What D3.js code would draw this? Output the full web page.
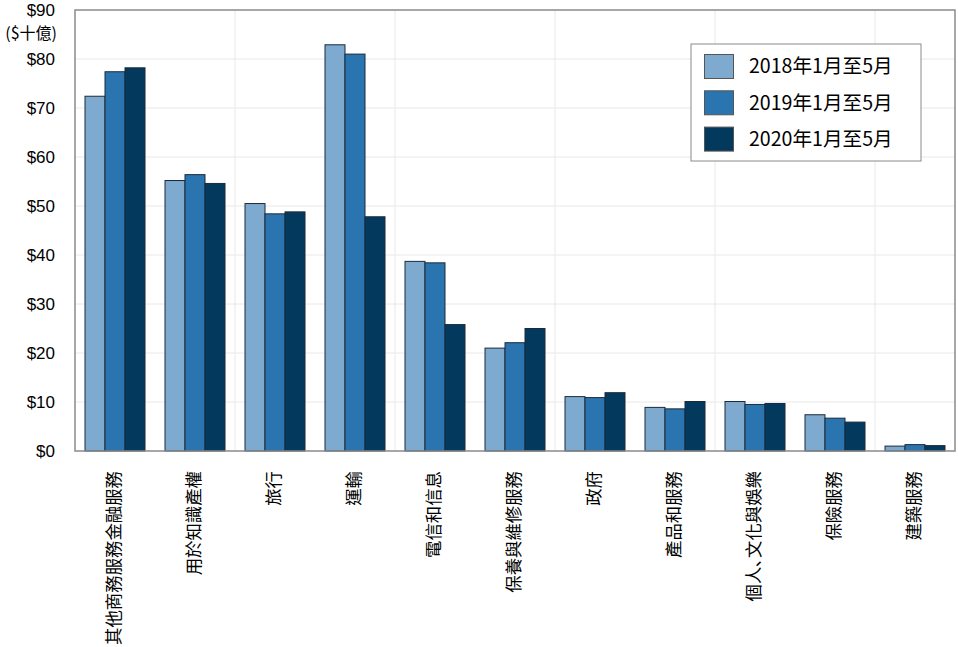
<!DOCTYPE html>
<html><head><meta charset="utf-8">
<script src="https://cdn.jsdelivr.net/npm/d3@7/dist/d3.min.js"></script>
<style>body{margin:0;background:#fff}svg{display:block}</style>
</head><body><svg id="c" width="958" height="647"></svg>
<script>
const categories = ["其他商務服務金融服務","用於知識產權","旅行","運輸","電信和信息","保養與維修服務","政府","產品和服務","個人､文化與娛樂","保險服務","建築服務"];
const seriesNames = ["2018年1月至5月","2019年1月至5月","2020年1月至5月"];
const s2018 = [72.4,55.2,50.5,82.9,38.7,21.0,11.1,8.9,10.1,7.4,1.0];
const s2019 = [77.4,56.4,48.4,81.0,38.4,22.1,10.9,8.6,9.5,6.7,1.3];
const s2020 = [78.2,54.6,48.8,47.8,25.8,25.0,11.9,10.1,9.7,5.9,1.1];
const yTicks = [0,10,20,30,40,50,60,70,80,90];
const colors = ["#7eaacf","#2a75b0","#04395e"];

const svg = d3.select("#c");
const L=75,R=955,T=10,B=451;
const x = d3.scaleBand().domain(categories).range([L,R]).paddingInner(0.25).paddingOuter(0.125);
const xs = d3.scaleBand().domain(seriesNames).range([0,x.bandwidth()]);
const xg = d3.scaleLinear().domain([0,categories.length]).range([L,R]);
const y = d3.scaleLinear().domain([0,90]).range([B,T]);

// grid
svg.append("g").selectAll("line").data(yTicks.slice(1,-1)).join("line")
  .attr("x1",L).attr("x2",R).attr("y1",d=>y(d)).attr("y2",d=>y(d))
  .attr("stroke","#e8e8e8").attr("stroke-width",1);
svg.append("g").selectAll("line").data([2,4,6,8,10]).join("line")
  .attr("x1",d=>xg(d)).attr("x2",d=>xg(d)).attr("y1",T).attr("y2",B)
  .attr("stroke","#e8e8e8").attr("stroke-width",1);

// bars
const series=[s2018,s2019,s2020];
series.forEach((s,si)=>{
  svg.append("g").selectAll("rect").data(s).join("rect")
    .attr("x",(d,i)=>x(categories[i])+xs(seriesNames[si]))
    .attr("y",d=>y(d)).attr("width",xs.bandwidth()).attr("height",d=>B-y(d))
    .attr("fill",colors[si]).attr("stroke","#1b2a3a").attr("stroke-width",1);
});

// frame
svg.append("rect").attr("x",L).attr("y",T).attr("width",R-L).attr("height",B-T)
  .attr("fill","none").attr("stroke","#8a8a8a").attr("stroke-width",1.5);

// y axis labels
const yAxis = d3.axisLeft(y).tickValues(yTicks).tickSize(0).tickPadding(20).tickFormat(d=>"$"+d);
const ga = svg.append("g").attr("transform",`translate(${L},0)`).call(yAxis);
ga.select(".domain").remove();
ga.selectAll("text").attr("font-family","Liberation Sans, Arial, sans-serif").attr("font-size",17).attr("fill","#000");
ga.selectAll(".tick").filter(d=>d===90).select("text").attr("dy","0.3em");
svg.append("text").attr("x",57).attr("y",39).attr("text-anchor","end")
  .attr("font-family","Noto Sans CJK TC, sans-serif").attr("font-size",16).text("($十億)");

// x labels
svg.append("g").selectAll("text").data(categories).join("text")
  .attr("transform",d=>`translate(${x(d)+x.bandwidth()/2+5},471) rotate(-90)`)
  .attr("text-anchor","end")
  .attr("font-family","Noto Sans CJK TC, sans-serif").attr("font-size",17.4).attr("fill","#000")
  .text(d=>d);

// legend
const lg = svg.append("g");
lg.append("rect").attr("x",691).attr("y",44).attr("width",230).attr("height",117)
  .attr("fill","#fff").attr("stroke","#8a8a8a").attr("stroke-width",1);
seriesNames.forEach((n,i)=>{
  lg.append("rect").attr("x",704.5).attr("y",54.5+i*36.3).attr("width",29).attr("height",24)
    .attr("fill",colors[i]).attr("stroke","#555").attr("stroke-width",1);
  lg.append("text").attr("x",749).attr("y",66.5+i*36.3).attr("dy","0.35em")
    .attr("font-family","Noto Sans CJK TC, sans-serif").attr("font-size",19.6).text(n);
});
</script></body></html>
